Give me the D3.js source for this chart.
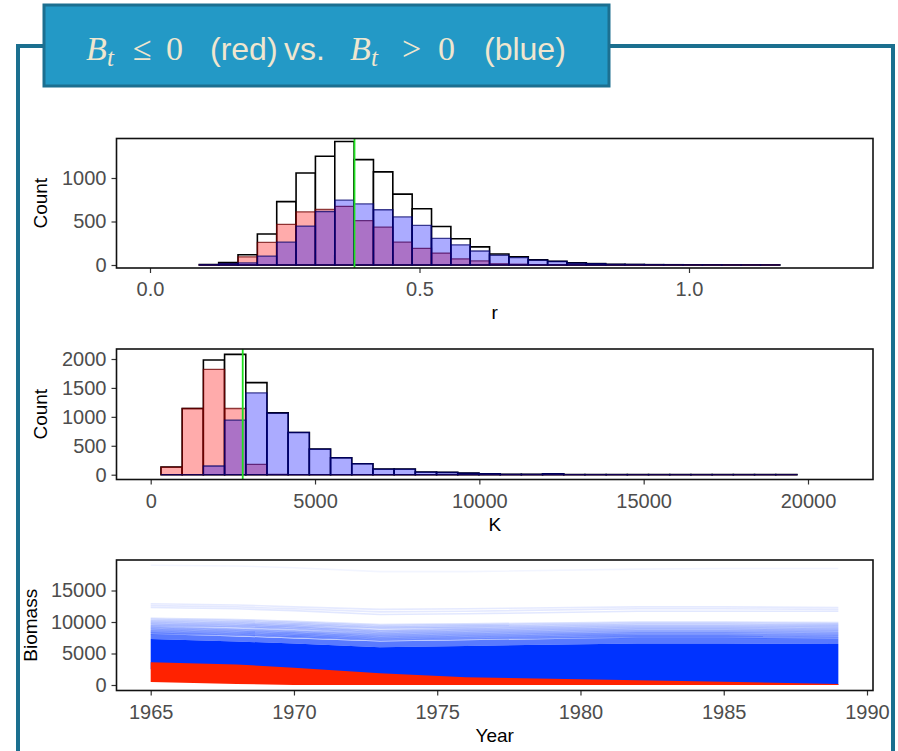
<!DOCTYPE html>
<html lang="en">
<head>
<meta charset="UTF-8">
<title>Bt posterior check</title>
<script src="https://d3js.org/d3.v7.min.js"></script>
<style>
  body { margin: 0; background: #fff; }
  svg { font-family: "Liberation Sans", Arial, sans-serif; }
</style>
</head>
<body>
<div id="chart"></div>
<script>
// ---- data ----
// r histogram: 30 bins, first edge and width
const rFirstEdge = 0.0915, rBinWidth = 0.0359;
const rTotal = [5, 27, 118, 356, 729, 1058, 1250, 1419, 1211, 1070, 815, 647, 443, 302, 208,
                126, 94, 59, 43, 24, 16, 8, 6, 4, 3, 2, 2, 1, 1, 1];
const rRed   = [2, 12, 94, 259, 467, 611, 639, 674, 509, 435, 262, 192, 137, 70, 47,
                14, 9, 4, 3, 2, 1, 1, 0, 0, 0, 0, 0, 0, 0, 0];
const rBlue  = [3, 15, 24, 102, 262, 447, 615, 745, 702, 635, 553, 455, 306, 232, 161,
                112, 85, 55, 40, 22, 15, 7, 6, 4, 3, 2, 2, 1, 1, 1];
const rMark = 0.3794;

// K histogram
const kFirstEdge = 313, kBinWidth = 645;
const kTotal = [132, 1144, 1983, 2080, 1592, 1069, 730, 443, 293, 190, 98, 98, 46, 40, 27,
                17, 6, 6, 17, 3, 2, 2, 1, 1, 1, 1, 1, 1, 1, 1];
const kRed   = [132, 1144, 1822, 1144, 178, 5, 0, 0, 0, 0, 0, 0, 0, 0, 0,
                0, 0, 0, 0, 0, 0, 0, 0, 0, 0, 0, 0, 0, 0, 0];
const kBlue  = [0, 0, 150, 943, 1414, 1064, 730, 443, 293, 190, 98, 98, 46, 40, 27,
                17, 6, 6, 17, 3, 2, 2, 1, 1, 1, 1, 1, 1, 1, 1];
const kMark = 2800;

// biomass trajectories
const bioYears = [1965, 1968, 1970, 1973, 1976, 1982, 1985, 1989];
const redHigh  = [3600, 3250, 2750, 1850, 1250, 750, 530, 150];
const redLow   = [480, 150, 0, 0, 0, 0, 0, 0];
const blueLow  = [2500, 2200, 1800, 1200, 800, 400, 250, 0];
const blueCore = [7300, 6900, 6600, 6000, 6200, 6600, 6600, 6500];
const blueMid  = [8100, 7700, 7400, 6900, 7100, 7500, 7500, 7400];
const blueLines = [
  [19000, 18900, 18600, 18000, 18000, 18400, 18500, 18500],
  [12900, 12700, 12400, 12000, 12100, 12400, 12400, 12300],
  [12600, 12400, 12100, 11600, 11700, 12100, 12100, 12000],
  [12300, 12100, 11800, 11200, 11300, 11700, 11700, 11700],
  [10600, 10400, 10100, 9600, 9700, 10000, 10000, 9900],
  [10400, 10200, 9900, 9400, 9500, 9800, 9800, 9700],
  [10200, 10000, 9700, 9200, 9300, 9600, 9600, 9500],
  [10000, 9800, 9500, 9000, 9100, 9400, 9400, 9300],
  [9800, 9600, 9300, 8700, 8900, 9200, 9200, 9100],
  [9600, 9400, 9100, 8500, 8700, 9000, 9000, 8900],
  [9400, 9200, 8900, 8300, 8500, 8800, 8800, 8700],
  [9200, 8900, 8600, 8100, 8300, 8600, 8600, 8500],
  [9000, 8700, 8400, 7900, 8100, 8400, 8400, 8300],
  [8800, 8500, 8200, 7700, 7900, 8200, 8200, 8100],
  [8600, 8300, 8000, 7500, 7700, 8000, 8000, 7900],
  [8400, 8100, 7800, 7300, 7500, 7800, 7800, 7700],
  [8200, 7900, 7600, 7100, 7300, 7600, 7600, 7500]
];

const W = 898, H = 751;
const svg = d3.select("#chart").append("svg")
    .attr("width", W).attr("height", H);

// outer frame + title box
svg.append("path")
    .attr("d", `M18,${H + 5} V46 H893 V${H + 5}`)
    .attr("fill", "none").attr("stroke", "#1b6f8f").attr("stroke-width", 4);
svg.append("rect")
    .attr("x", 44).attr("y", 5).attr("width", 565).attr("height", 81)
    .attr("fill", "#2399c6").attr("stroke", "#1c6f90").attr("stroke-width", 3);

// title pieces: [text, x, kind]
const titleParts = [
    ["B", 86, "B"], ["t", 107, "t"], ["\u2264", 133, "m"], ["0", 166, "m"],
    ["(red)", 210, "s"], ["vs.", 284, "s"],
    ["B", 350, "B"], ["t", 371, "t"], [">", 402, "m"], ["0", 438, "m"],
    ["(blue)", 484, "s"]
];
svg.append("g").selectAll("text").data(titleParts).join("text")
    .attr("x", d => d[1])
    .attr("y", d => d[2] === "t" ? 66 : 60)
    .attr("fill", "#efe6cf")
    .style("font-family", d => d[2] === "s" ? "Liberation Sans" : "Liberation Serif")
    .style("font-style", d => (d[2] === "B" || d[2] === "t") ? "italic" : "normal")
    .attr("font-size", d => d[2] === "t" ? 25 : d[2] === "s" ? 32 : 34)
    .text(d => d[0]);

const box = { left: 116.5, right: 873 };

function drawAxes(g, x, y, top, bottom, xTicks, yTicks, xFmt, xLabel, yLabel, yLabelX) {
    const ax = g.append("g").attr("transform", `translate(0,${bottom})`)
        .call(d3.axisBottom(x).tickValues(xTicks).tickFormat(xFmt).tickSize(5).tickPadding(9));
    const ay = g.append("g").attr("transform", `translate(${box.left},0)`)
        .call(d3.axisLeft(y).tickValues(yTicks).tickFormat(d3.format("d")).tickSize(5).tickPadding(5));
    [ax, ay].forEach(a => {
        a.select(".domain").remove();
        a.selectAll("line").attr("stroke", "#333").attr("stroke-width", 1.2);
        a.selectAll("text").attr("fill", "#4d4d4d").attr("font-size", 20)
            .attr("font-family", "Liberation Sans");
    });
    g.append("rect")
        .attr("x", box.left).attr("y", top)
        .attr("width", box.right - box.left).attr("height", bottom - top)
        .attr("fill", "none").attr("stroke", "#111").attr("stroke-width", 1.6);
    g.append("text").attr("x", (box.left + box.right) / 2).attr("y", bottom + 51)
        .attr("text-anchor", "middle").attr("font-size", 19).attr("fill", "#000").text(xLabel);
    g.append("text")
        .attr("transform", `translate(${yLabelX},${(top + bottom) / 2}) rotate(-90)`)
        .attr("text-anchor", "middle").attr("font-size", 19).attr("fill", "#000").text(yLabel);
}

function barPath(x, y, x0, x1, v) {
    return `M${x(x0)},${y(0)}V${y(v)}H${x(x1)}V${y(0)}Z`;
}

function histPanel(cfg) {
    const g = svg.append("g");
    const clipId = "clip" + cfg.id;
    g.append("clipPath").attr("id", clipId).append("rect")
        .attr("x", box.left).attr("y", cfg.top)
        .attr("width", box.right - box.left).attr("height", cfg.bottom - cfg.top);
    const edges = d3.range(cfg.total.length + 1).map(i => cfg.first + i * cfg.width);
    const plot = g.append("g").attr("clip-path", `url(#${clipId})`);
    const layers = [
        { vals: cfg.total, fill: "#fff", fo: 1, stroke: "#000", so: 1, sw: 1.6 },
        { vals: cfg.red, fill: "red", fo: 0.33, stroke: "#6b0000", so: 0.75, sw: 1.3 },
        { vals: cfg.blue, fill: "blue", fo: 0.33, stroke: "#00006b", so: 0.75, sw: 1.3 }
    ];
    layers.forEach(L => {
        plot.append("g").selectAll("path").data(L.vals).join("path")
            .attr("d", (v, i) => barPath(cfg.x, cfg.y, edges[i], edges[i + 1], v))
            .attr("fill", L.fill).attr("fill-opacity", L.fo)
            .attr("stroke", L.stroke).attr("stroke-opacity", L.so).attr("stroke-width", L.sw);
    });
    plot.append("line")
        .attr("x1", cfg.x(cfg.mark)).attr("x2", cfg.x(cfg.mark))
        .attr("y1", cfg.top).attr("y2", cfg.bottom)
        .attr("stroke", "#1fe01f").attr("stroke-width", 1.8);
    drawAxes(g, cfg.x, cfg.y, cfg.top, cfg.bottom, cfg.xTicks, cfg.yTicks, cfg.xFmt,
        cfg.xLabel, "Count", 47);
}

histPanel({
    id: "r", top: 138.5, bottom: 268,
    x: d3.scaleLinear().domain([0, 1]).range([150, 689]),
    y: d3.scaleLinear().domain([0, 1000]).range([265, 178]),
    first: rFirstEdge, width: rBinWidth,
    total: rTotal, red: rRed, blue: rBlue, mark: rMark,
    xTicks: [0, 0.5, 1], yTicks: [0, 500, 1000], xFmt: d3.format(".1f"), xLabel: "r"
});

histPanel({
    id: "K", top: 349, bottom: 479.5,
    x: d3.scaleLinear().domain([0, 20000]).range([150.7, 808]),
    y: d3.scaleLinear().domain([0, 2000]).range([474.7, 359]),
    first: kFirstEdge, width: kBinWidth,
    total: kTotal, red: kRed, blue: kBlue, mark: kMark,
    xTicks: [0, 5000, 10000, 15000, 20000], yTicks: [0, 500, 1000, 1500, 2000],
    xFmt: d3.format("d"), xLabel: "K"
});

// biomass panel
const bTop = 560, bBottom = 690.5;
const bx = d3.scaleLinear().domain([1965, 1990]).range([150.7, 867]);
const by = d3.scaleLinear().domain([0, 15000]).range([685, 590.5]);
const bg = svg.append("g");
bg.append("clipPath").attr("id", "clipB").append("rect")
    .attr("x", box.left).attr("y", bTop)
    .attr("width", box.right - box.left).attr("height", bBottom - bTop);
const bp = bg.append("g").attr("clip-path", "url(#clipB)");
const band = (lo, hi) => d3.area()
    .x((d, i) => bx(bioYears[i])).y0((d, i) => by(lo[i])).y1((d, i) => by(hi[i]))(hi);
const line = d3.line().x((d, i) => bx(bioYears[i])).y(d => by(d));
const lineAlpha = d3.scaleLinear().domain([8000, 10600, 12900]).range([0.55, 0.15, 0.1]).clamp(true);

bp.selectAll("path.traj").data(blueLines).join("path").attr("class", "traj")
    .attr("d", line).attr("fill", "none").attr("stroke", "#0033ff")
    .attr("stroke-width", 1.6)
    .attr("stroke-opacity", d => d[0] > 15000 ? 0.05 : lineAlpha(d[0]));
bp.append("path").attr("d", band(blueCore, blueMid)).attr("fill", "#0033ff").attr("fill-opacity", 0.65);
bp.append("path").attr("d", band(blueLow, blueCore)).attr("fill", "#0033ff");
bp.append("path").attr("d", band(redLow, redHigh)).attr("fill", "#ff2200");

drawAxes(bg, bx, by, bTop, bBottom, [1965, 1970, 1975, 1980, 1985, 1990],
    [0, 5000, 10000, 15000], d3.format("d"), "Year", "Biomass", 37);
</script>
</body>
</html>
